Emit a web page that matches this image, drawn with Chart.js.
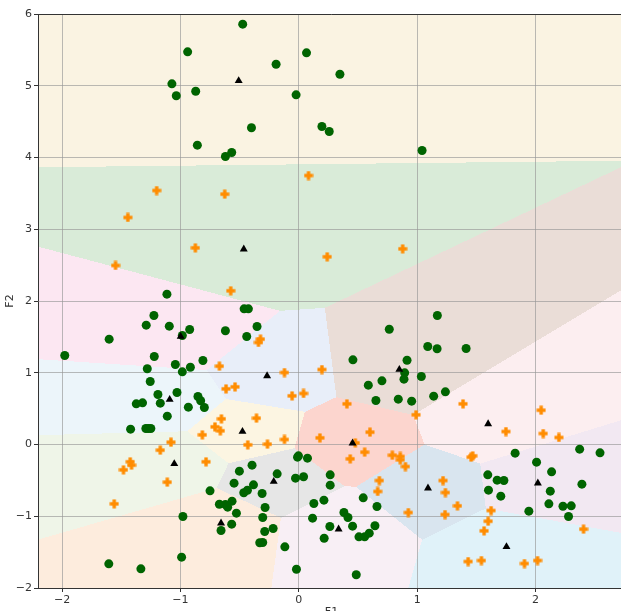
<!DOCTYPE html>
<html>
<head>
<meta charset="utf-8">
<script src="https://cdn.jsdelivr.net/npm/chart.js@4"></script>
<style>
html,body{margin:0;padding:0;background:#fff;overflow:hidden;width:621px;height:611px;}
canvas{display:block;}
</style>
</head>
<body>
<canvas id="c" width="631" height="619" style="width:631px;height:619px"></canvas>
<script>
// ---- data ----
const greenX = [-0.474,-0.939,-0.192,0.065,-1.072,-1.035,-0.871,-0.023,-0.400,-0.857,-0.620,-0.567,0.347,0.195,0.257,1.041,
 -1.114,-1.977,-1.602,-1.224,-1.289,-1.094,-0.984,-0.922,-0.620,-0.462,-0.426,-0.353,-0.440,-1.221,-1.043,-0.916,-0.810,-1.280,-0.984,-1.255,-1.190,-1.029,-1.170,-1.373,-1.320,-0.852,-0.829,-0.933,-0.798,-1.111,-1.421,-1.292,-1.272,-1.250,
 -0.011,-0.003,0.073,-0.395,-0.183,-0.502,-0.547,-0.028,0.040,-0.383,-0.434,-0.465,-0.310,-0.750,-0.671,-0.620,-0.601,-0.564,-0.527,-0.285,0.127,0.116,-0.979,-0.305,-0.657,-0.567,-0.288,-0.217,-0.330,-0.305,-0.118,-0.020,-0.990,-1.605,-1.334,
 1.170,0.764,1.089,1.168,1.413,0.457,0.914,0.894,0.888,0.702,0.587,1.035,1.238,1.139,0.651,0.840,0.953,
 1.827,2.008,2.372,2.544,2.135,1.596,1.675,1.732,1.602,1.706,2.124,2.391,2.112,2.231,2.301,2.278,1.943,
 0.265,0.265,0.212,0.544,0.660,0.381,0.415,0.262,0.214,0.454,0.508,0.556,0.595,0.643,0.485];
const greenY = [5.858,5.473,5.300,5.459,5.027,4.860,4.924,4.873,4.414,4.172,4.014,4.070,5.161,4.432,4.362,4.098,
 2.095,1.240,1.468,1.798,1.663,1.649,1.519,1.603,1.585,1.891,1.891,1.645,1.505,1.226,1.115,1.077,1.171,1.055,1.013,0.878,0.697,0.725,0.576,0.567,0.581,0.669,0.609,0.520,0.516,0.395,0.214,0.223,0.223,0.223,
 -0.176,-0.158,-0.190,-0.288,-0.409,-0.372,-0.539,-0.469,-0.450,-0.562,-0.637,-0.673,-0.683,-0.646,-0.832,-0.836,-0.873,-0.790,-0.957,-0.878,-0.822,-1.027,-1.003,-1.017,-1.199,-1.110,-1.213,-1.171,-1.370,-1.366,-1.426,-1.738,-1.570,-1.663,-1.733,
 1.798,1.607,1.366,1.334,1.338,1.180,1.175,0.999,0.911,0.887,0.827,0.948,0.734,0.674,0.613,0.632,0.604,
 -0.121,-0.246,-0.065,-0.116,-0.381,-0.423,-0.497,-0.502,-0.636,-0.720,-0.650,-0.553,-0.827,-0.860,-0.855,-1.003,-0.929,
 -0.423,-0.567,-0.776,-0.743,-0.864,-0.948,-1.017,-1.143,-1.306,-1.138,-1.287,-1.287,-1.236,-1.133,-1.816];

const orangeX = [-1.201,-1.444,-0.626,0.082,-0.874,-1.548,-0.575,0.240,0.877,-0.324,-0.341,-0.671,-0.121,-0.615,-0.539,-0.057,0.040,-0.654,-0.358,-0.708,-0.663,-0.815,-0.431,-0.265,-0.121,0.178,-1.080,-1.170,-0.784,-1.424,-1.413,-1.481,-1.111,-1.559,
 0.195,0.406,0.990,1.387,2.047,1.749,2.064,2.197,0.601,0.477,0.556,0.434,0.790,0.857,0.857,0.900,1.455,1.469,0.680,0.666,1.218,1.238,0.925,1.235,1.340,1.624,1.599,1.565,2.405,1.430,1.542,1.906,2.016];
const orangeY = [3.540,3.164,3.489,3.749,2.741,2.495,2.142,2.616,2.727,1.468,1.422,1.092,1.003,0.776,0.804,0.678,0.711,0.358,0.367,0.246,0.191,0.135,-0.005,0.005,0.070,0.093,0.032,-0.079,-0.241,-0.241,-0.288,-0.353,-0.525,-0.827,
 1.045,0.567,0.414,0.567,0.478,0.181,0.153,0.098,0.172,0.023,-0.107,-0.200,-0.149,-0.167,-0.213,-0.307,-0.176,-0.158,-0.502,-0.655,-0.502,-0.669,-0.948,-0.976,-0.855,-0.920,-1.069,-1.203,-1.180,-1.631,-1.617,-1.659,-1.617];

const centerX = [-0.508,-0.465,-0.998,-1.091,-0.268,-0.476,-1.052,-0.212,-0.657,0.849,0.454,1.599,1.091,2.019,0.336,1.754];
const centerY = [5.069,2.722,1.505,0.627,0.957,0.181,-0.269,-0.516,-1.097,1.045,0.018,0.288,-0.609,-0.539,-1.180,-1.426];

const xTicks = [-2,-1,0,1,2];
const yTicks = [-2,-1,0,1,2,3,4,5,6];

// ---- styles ----
const regionColors = ['#FAF3E2','#D9EBD8','#FCE7F2','#ECF5FA','#E8EEF9','#FCF5E2','#EFF5E8','#E6E6E6',
  '#FDECDD','#EADDD7','#FCD5CE','#FCEEF0','#D9E5EF','#F2E8F2','#F8EFF5','#E0F2F9'];

function pts(xs, ys){ return xs.map((x,i)=>({x:x, y:ys[i]})); }

// filled plus marker
const plus = document.createElement('canvas');
plus.width = 10; plus.height = 10;
(function(){
  const g = plus.getContext('2d');
  g.fillStyle = '#FF8C00';
  g.fillRect(3.3,0.5,3.4,9);
  g.fillRect(0.5,3.3,9,3.4);
})();

const rgb = regionColors.map(h=>[parseInt(h.slice(1,3),16),parseInt(h.slice(3,5),16),parseInt(h.slice(5,7),16)]);

const voronoiBg = {
  id:'voronoiBg',
  beforeDraw(chart){
    const {ctx, chartArea:a, scales:{x, y}} = chart;
    const w = Math.round(a.right - a.left), h = Math.round(a.bottom - a.top);
    const img = ctx.createImageData(w, h);
    const d = img.data;
    for (let j=0;j<h;j++){
      const vy = y.getValueForPixel(a.top + j + 0.5);
      for (let i=0;i<w;i++){
        const vx = x.getValueForPixel(a.left + i + 0.5);
        let best = 0, bd = Infinity;
        for (let k=0;k<centerX.length;k++){
          const dx = vx-centerX[k], dy = vy-centerY[k];
          const dd = dx*dx+dy*dy;
          if (dd<bd){bd=dd;best=k;}
        }
        const c = rgb[best], o = (j*w+i)*4;
        d[o]=c[0]; d[o+1]=c[1]; d[o+2]=c[2]; d[o+3]=255;
      }
    }
    ctx.putImageData(img, Math.round(a.left), Math.round(a.top));
  },
  afterDatasetsDraw(chart){
    const {ctx, chartArea:a} = chart;
    ctx.save();
    ctx.strokeStyle = '#333';
    ctx.lineWidth = 1;
    ctx.beginPath();
    ctx.moveTo(a.left, a.top+0.5);
    ctx.lineTo(a.right, a.top+0.5);
    ctx.stroke();
    ctx.restore();
  }
};

const fmt = v => String(v).replace('-', '\u2212');
const tickFont = {family:'DejaVu Sans', size:11};

new Chart(document.getElementById('c'), {
  type:'scatter',
  data:{
    datasets:[
      {label:'0', data:pts(greenX, greenY), pointStyle:'circle', pointRadius:4.5, backgroundColor:'#006400', borderColor:'#006400', borderWidth:0, order:3},
      {label:'1', data:pts(orangeX, orangeY), pointStyle:plus, pointRadius:5, backgroundColor:'#FF8C00', borderColor:'#FF8C00', order:2},
      {label:'centers', data:pts(centerX, centerY), pointStyle:'triangle', pointRadius:4.6, backgroundColor:'#000', borderColor:'#000', borderWidth:0, order:1}
    ]
  },
  options:{
    responsive:false,
    animation:false,
    events:[],
    layout:{padding:{top:14, left:0, right:0, bottom:0}},
    plugins:{legend:{display:false}, tooltip:{enabled:false}},
    scales:{
      x:{
        type:'linear', min:-2.203, max:2.755,
        afterBuildTicks(s){ s.ticks = xTicks.map(v=>({value:v})); },
        afterFit(s){ s.height = 31; },
        grid:{color:'rgba(150,150,150,0.65)', lineWidth:1, tickLength:4, tickColor:'#333', drawTicks:true},
        border:{display:true, color:'#333', width:1},
        ticks:{font:tickFont, color:'#333', padding:2, callback:fmt, maxRotation:0},
        title:{display:true, text:'F1', font:{family:'DejaVu Sans', size:11}, color:'#333', padding:{top:0, bottom:0}}
      },
      y:{
        type:'linear', min:-2, max:6,
        afterBuildTicks(s){ s.ticks = yTicks.map(v=>({value:v})); },
        afterFit(s){ s.width = 38; },
        grid:{color:'rgba(150,150,150,0.65)', lineWidth:1, tickLength:4, tickColor:'#333', drawTicks:true},
        border:{display:true, color:'#333', width:1},
        ticks:{font:tickFont, color:'#333', padding:2, callback:fmt},
        title:{display:true, text:'F2', font:{family:'DejaVu Sans', size:11}, color:'#333', padding:{top:4, bottom:0}}
      }
    }
  },
  plugins:[voronoiBg]
});
</script>
</body>
</html>
